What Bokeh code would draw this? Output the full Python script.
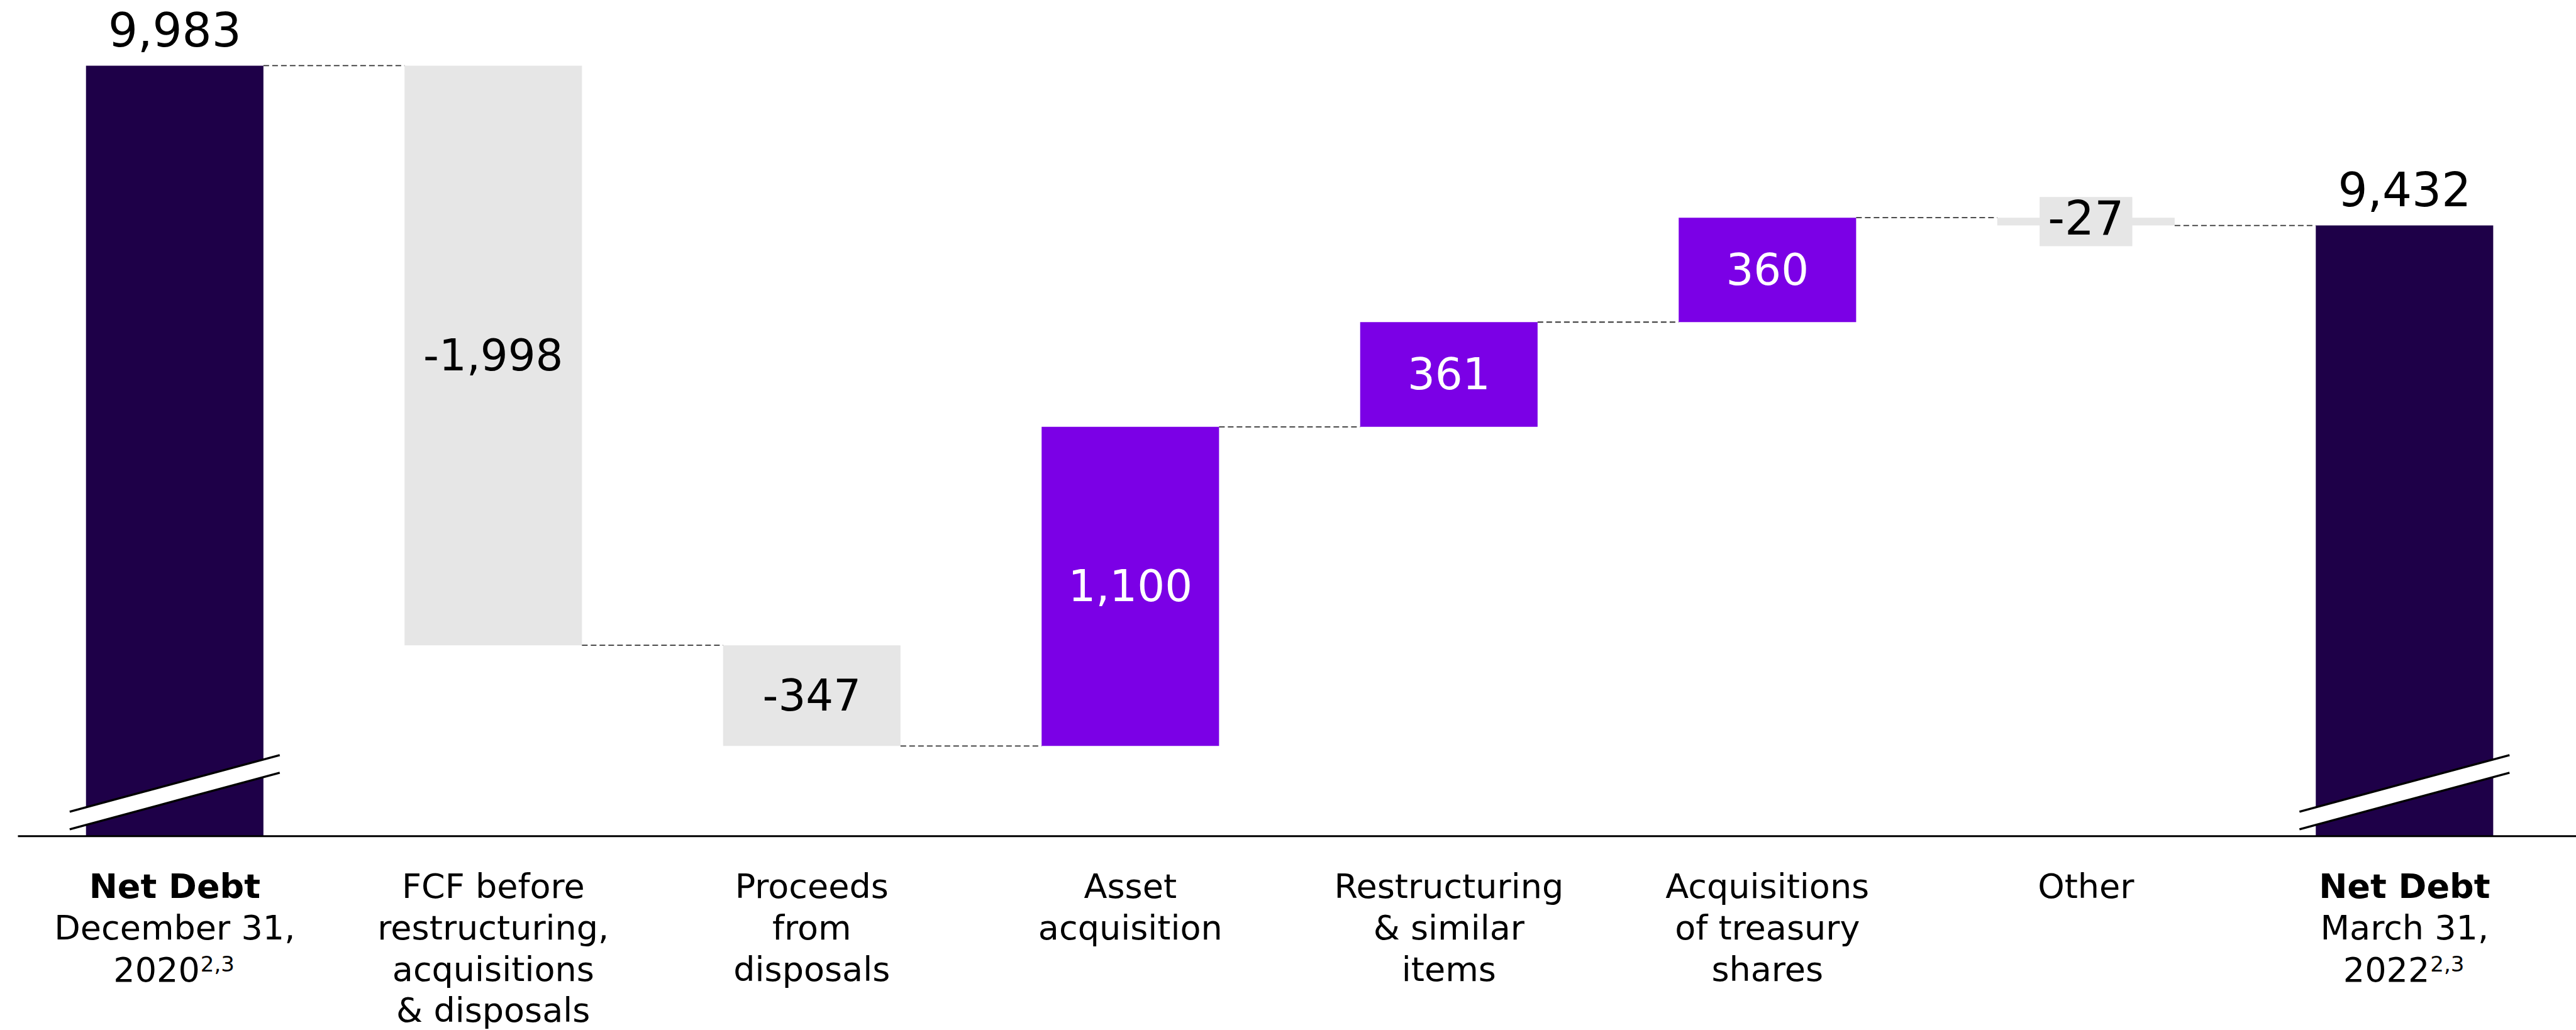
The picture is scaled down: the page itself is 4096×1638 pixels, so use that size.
from bokeh.plotting import figure
from bokeh.models import Range1d
from bokeh.core.properties import value
from bokeh.embed import file_html
from bokeh.resources import INLINE

# ---------------- data ----------------
categories = [
    "Net Debt December 31, 2020",
    "FCF before restructuring, acquisitions & disposals",
    "Proceeds from disposals",
    "Asset acquisition",
    "Restructuring & similar items",
    "Acquisitions of treasury shares",
    "Other",
    "Net Debt March 31, 2022",
]
label_lines = [
    ["Net Debt", "December 31,", "2020"],
    ["FCF before", "restructuring,", "acquisitions", "& disposals"],
    ["Proceeds", "from", "disposals"],
    ["Asset", "acquisition"],
    ["Restructuring", "& similar", "items"],
    ["Acquisitions", "of treasury", "shares"],
    ["Other"],
    ["Net Debt", "March 31,", "2022"],
]
footnote = "2,3"
start_total = 9983
end_total = 9432
deltas = [-1998, -347, 1100, 361, 360, -27]
delta_labels = ["-1,998", "-347", "1,100", "361", "360", "-27"]
total_labels = ["9,983", "9,432"]
axis_base = 7327  # value where the broken axis sits

# ---------------- style / layout ----------------
NAVY = "#1E0048"
PURPLE = "#7B00E6"
GRAY = "#E6E6E6"
FONT = value("DejaVu Sans")

W, H = 4096, 1638
SX = 506.5          # px per category
SY = 0.46136        # px per value unit
X0 = -277.3 / SX
X1 = X0 + W / SX
Y1 = start_total + 103.9 / SY
Y0 = Y1 - H / SY
BW = 0.557          # bar width (category units)
KB = 0.39           # baseline correction (fraction of font size)


def dx(px):
    return px / SX


def dy(px):
    return px / SY


def y_at(py):
    return Y1 - py / SY


def fix(fs):
    return dy(KB * fs)


p = figure(width=W, height=H, output_backend="svg", toolbar_location=None,
           x_range=Range1d(X0, X1), y_range=Range1d(Y0, Y1),
           min_border=0, outline_line_color=None, background_fill_color="white",
           border_fill_color="white")
p.axis.visible = False
p.grid.visible = False

# ---------------- bars ----------------
n = len(categories)
xs = list(range(n))
levels = [start_total]
for d in deltas:
    levels.append(levels[-1] + d)

# totals
tot_x = [0, n - 1]
tot_top = [start_total, end_total]
p.quad(left=[x - BW / 2 for x in tot_x], right=[x + BW / 2 for x in tot_x],
       bottom=[axis_base] * 2, top=tot_top, fill_color=NAVY, line_color=None)

# deltas
d_x = xs[1:-1]
d_bottom = [min(levels[i], levels[i + 1]) for i in range(len(deltas))]
d_top = [max(levels[i], levels[i + 1]) for i in range(len(deltas))]
d_col = [PURPLE if d > 0 else GRAY for d in deltas]
p.quad(left=[x - BW / 2 for x in d_x], right=[x + BW / 2 for x in d_x],
       bottom=d_bottom, top=d_top, fill_color=d_col, line_color=None)

# connectors
conn_levels = levels
p.segment(x0=[i + BW / 2 for i in range(n - 1)],
          y0=conn_levels,
          x1=[i + 1 - BW / 2 for i in range(n - 1)],
          y1=conn_levels,
          line_color="#333333", line_width=1.8, line_dash="9 5")

# axis line
p.segment(x0=[X0 + dx(28)], y0=[axis_base], x1=[X1], y1=[axis_base],
          line_color="black", line_width=2.8)

# break marks on total bars
half = dx(167)
for cx in tot_x:
    ll, lr, ul, ur = axis_base + dy(11), axis_base + dy(101), axis_base + dy(39), axis_base + dy(129)
    p.patch(x=[cx - half, cx + half, cx + half, cx - half], y=[ll, lr, ur, ul],
            fill_color="white", line_color=None)
    p.segment(x0=[cx - half, cx - half], y0=[ll, ul], x1=[cx + half, cx + half], y1=[lr, ur],
              line_color="black", line_width=3.4)

# ---------------- value labels ----------------
TOP_FS = 74
IN_FS = 69
p.text(x=tot_x, y=[t + dy(29) + fix(TOP_FS) for t in tot_top], text=total_labels,
       text_font=FONT, text_font_size=f"{TOP_FS}px", text_align="center",
       text_baseline="alphabetic", text_color="black")

in_x, in_y, in_t, in_c = [], [], [], []
box_x, box_y, box_t = [], [], []
for i, d in enumerate(deltas):
    cx = d_x[i]
    cy = (d_bottom[i] + d_top[i]) / 2
    if abs(d) * SY < 60:
        box_x.append(cx)
        box_y.append(cy)
        box_t.append(delta_labels[i])
    else:
        in_x.append(cx)
        in_y.append(cy - dy(0.729 * IN_FS / 2) + fix(IN_FS))
        in_t.append(delta_labels[i])
        in_c.append("white" if d > 0 else "black")

p.text(x=in_x, y=in_y, text=in_t, text_font=FONT, text_font_size=f"{IN_FS}px",
       text_align="center", text_baseline="alphabetic", text_color=in_c)

p.rect(x=box_x, y=box_y, width=dx(147.4), height=dy(78.4), fill_color=GRAY, line_color=None)
p.text(x=box_x, y=[y - dy(22) + fix(TOP_FS) for y in box_y], text=box_t, text_font=FONT,
       text_font_size=f"{TOP_FS}px", text_align="center", text_baseline="alphabetic",
       text_color="black")

# ---------------- category labels ----------------
CAT_FS = 54
SUP_FS = 34
base0 = y_at(1430.5)
lh = dy(65.6)
reg_x, reg_y, reg_t = [], [], []
bold_x, bold_y, bold_t = [], [], []
yr_x, yr_y, yr_t = [], [], []
sup_x, sup_y, sup_t = [], [], []
for i, lines in enumerate(label_lines):
    total = i in tot_x
    for j, line in enumerate(lines):
        yy = base0 - j * lh
        if total and j == 0:
            bold_x.append(i); bold_y.append(yy + fix(CAT_FS)); bold_t.append(line)
        elif total and j == len(lines) - 1:
            yr_x.append(i + dx(40)); yr_y.append(yy + fix(CAT_FS)); yr_t.append(line)
            sup_x.append(i + dx(41)); sup_y.append(yy + dy(16) + fix(SUP_FS)); sup_t.append(footnote)
        else:
            reg_x.append(i); reg_y.append(yy + fix(CAT_FS)); reg_t.append(line)

p.text(x=reg_x, y=reg_y, text=reg_t, text_font=FONT, text_font_size=f"{CAT_FS}px",
       text_align="center", text_baseline="alphabetic", text_color="black")
p.text(x=bold_x, y=bold_y, text=bold_t, text_font=FONT, text_font_size=f"{CAT_FS}px",
       text_font_style="bold", text_align="center", text_baseline="alphabetic",
       text_color="black")
p.text(x=yr_x, y=yr_y, text=yr_t, text_font=FONT, text_font_size=f"{CAT_FS}px",
       text_align="right", text_baseline="alphabetic", text_color="black")
p.text(x=sup_x, y=sup_y, text=sup_t, text_font=FONT, text_font_size=f"{SUP_FS}px",
       text_align="left", text_baseline="alphabetic", text_color="black")

open("out.html", "w").write(file_html(p, INLINE))
